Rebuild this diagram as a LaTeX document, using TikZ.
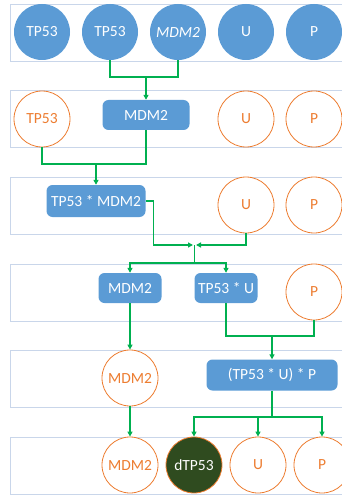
\documentclass[tikz,border=0pt]{standalone}
\usepackage{fontspec}
\setmainfont{Carlito}
\usetikzlibrary{arrows.meta}

\definecolor{ofblue}{HTML}{5B9BD5}
\definecolor{oforange}{HTML}{ED7D31}
\definecolor{ofgreen}{HTML}{00B050}
\definecolor{dkgreen}{HTML}{2F4B1F}
\definecolor{bandline}{HTML}{C9D6EA}

\tikzset{
	band/.style={draw=bandline, line width=0.8pt},
	bluecirc/.style={circle, fill=ofblue, text=white, minimum size=56pt, inner sep=0pt},
	orcirc/.style={circle, draw=oforange, fill=white, text=oforange, line width=0.8pt, minimum size=56pt, inner sep=0pt},
	deadcirc/.style={circle, draw=oforange, fill=dkgreen, text=white, line width=0.8pt, minimum size=56pt, inner sep=0pt},
	bluebox/.style={rectangle, rounded corners=6pt, fill=ofblue, text=white, minimum height=30pt, inner sep=2pt},
	link/.style={draw=ofgreen, line width=1.4pt},
}

\begin{document}
\begin{tikzpicture}[x=1pt, y=-1pt, node distance=68pt, font=\fontsize{15.5}{18}\selectfont, >={Triangle[length=5pt,width=5pt]}]
	\useasboundingbox (0,0) rectangle (342,497);
	% rows
	\foreach \top in {4,90,177,264,350,437}
		\draw[band] (10,\top) rectangle (352,\top+57);

	% row 1
	\node (a1) [bluecirc] at (42,32) {TP53};
	\node (a2) [bluecirc, right of=a1] {TP53};
	\node (a3) [bluecirc, right of=a2] {\itshape MDM2};
	\node (a4) [bluecirc, right of=a3] {U};
	\node (a5) [bluecirc, right of=a4] {P};

	% row 2
	\node (b1) [orcirc] at (42,119) {TP53};
	\node (b2) [bluebox, minimum width=87pt] at (146,115) {MDM2};
	\node (b4) [orcirc] at (246,119) {U};
	\node (b5) [orcirc, right of=b4] {P};

	% row 3
	\node (c1) [bluebox, minimum width=99pt, minimum height=32pt] at (96,201) {TP53 * MDM2};
	\node (c4) [orcirc] at (246,205) {U};
	\node (c5) [orcirc, right of=c4] {P};

	% row 4
	\node (d1) [bluebox, minimum width=63pt] at (130,288) {MDM2};
	\node (d2) [bluebox, minimum width=63pt] at (226,288) {TP53 * U};
	\node (d5) [orcirc] at (314,292) {P};

	% row 5
	\node (e1) [orcirc] at (130,378) {MDM2};
	\node (e2) [bluebox, minimum width=131pt, minimum height=31pt] at (272,375) {(TP53 * U) * P};

	% row 6
	\node (f1) [orcirc] at (130,465) {MDM2};
	\node (f2) [deadcirc, right of=f1, node distance=64pt] {dTP53};
	\node (f3) [orcirc, right of=f2, node distance=64pt] {U};
	\node (f4) [orcirc, right of=f3, node distance=64pt] {P};

	% junctions
	\coordinate (j1) at (146,77);
	\coordinate (j2) at (96,164);
	\coordinate (j3) at (194.5,245);
	\coordinate (j4) at (194.5,263);
	\coordinate (j5) at (272,336);
	\coordinate (j6) at (272,417);

	\draw[link] (a2.south) |- (j1) -| (a3.south);
	\draw[link,->] (j1) -- (b2.north);

	\draw[link] (b1.south) |- (j2) -| (b2.south);
	\draw[link,->] (j2) -- (c1.north);

	\draw[link,->] (c1.east) -| ([xshift=8pt]c1.east |- j3) -- ([xshift=-1.5pt]j3);
	\draw[link,->] (c4.south) |- ([xshift=1.5pt]j3);
	\draw[link] (j3) -- (j4);
	\draw[link,->] (j4) -| (d1.north);
	\draw[link,->] (j4) -| (d2.north);

	\draw[link,->] (d1.south) -- (e1.north);
	\draw[link] (d2.south) |- (j5) -| (d5.south);
	\draw[link,->] (j5) -- (e2.north);

	\draw[link,->] (e1.south) -- (f1.north);
	\draw[link] (e2.south) -- (j6);
	\draw[link,->] (j6) -| (f2.north);
	\draw[link,->] (j6) -| (f3.north);
	\draw[link,->] (j6) -| (f4.north);
\end{tikzpicture}
\end{document}
